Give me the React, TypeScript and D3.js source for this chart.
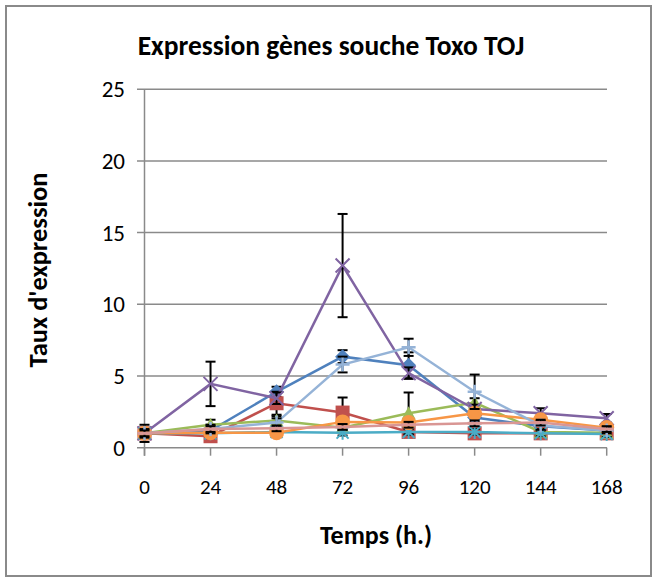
import React from 'react';
import * as d3 from 'd3';

// time points (h.)
const times = [0, 24, 48, 72, 96, 120, 144, 168];
const yTicks = [0, 5, 10, 15, 20, 25];

// expression rate per gene series
const serieBlue = [1, 1.2, 3.9, 6.35, 5.75, 2.1, 1.5, 1.2];
const serieRed = [1, 0.8, 3.1, 2.45, 1.1, 1.0, 1.0, 1.0];
const serieGreen = [1, 1.6, 1.9, 1.4, 2.4, 3.15, 1.1, 1.05];
const seriePurple = [1, 4.45, 3.45, 12.7, 5.2, 2.7, 2.4, 2.05];
const serieAqua = [1, 1.0, 1.1, 1.05, 1.1, 1.1, 1.0, 0.95];
const serieOrange = [1, 1.05, 1.05, 1.8, 1.75, 2.4, 1.95, 1.4];
const serieLightBlue = [1, 1.3, 1.75, 5.8, 7.0, 3.9, 1.55, 1.2];
const seriePink = [1, 1.3, 1.35, 1.45, 1.6, 1.7, 1.75, 1.3];

// error bars (+/-)
const errBlue = [0.6, 0.4, 0.35, 0.45, 0.9, 0.3, 0.2, 0.2];
const errRed = [0.3, 0.3, 0.8, 1.05, 0.2, 0.2, 0.2, 0.2];
const errGreen = [0.3, 0.35, 0.3, 0.3, 1.45, 0.3, 0.2, 0.2];
const errPurple = [0.3, 1.55, 0.4, 3.6, 0.4, 0.3, 0.35, 0.3];
const errAqua = [0.2, 0.2, 0.2, 0.2, 0.2, 0.2, 0.2, 0.2];
const errOrange = [0.2, 0.2, 0.2, 0.2, 0.2, 0.3, 0.3, 0.2];
const errLightBlue = [0.3, 0.3, 0.3, 0.55, 0.6, 1.2, 0.3, 0.2];
const errPink = [0.2, 0.2, 0.2, 0.2, 0.2, 0.2, 0.2, 0.2];

const series = [
  { values: serieBlue, err: errBlue, color: '#4F81BD', marker: 'diamond' },
  { values: serieRed, err: errRed, color: '#C0504D', marker: 'square' },
  { values: serieGreen, err: errGreen, color: '#9BBB59', marker: 'triangle' },
  { values: seriePurple, err: errPurple, color: '#8064A2', marker: 'x' },
  { values: serieAqua, err: errAqua, color: '#4BACC6', marker: 'star' },
  { values: serieOrange, err: errOrange, color: '#F79646', marker: 'circle' },
  { values: serieLightBlue, err: errLightBlue, color: '#95B3D7', marker: 'plus' },
  { values: seriePink, err: errPink, color: '#D99694', marker: 'dash' },
];

const W = 656;
const H = 581;
const FONT = 'Carlito, Calibri, Lato, sans-serif';

const x = d3.scaleLinear().domain([0, 168]).range([144.5, 606.7]);
const y = d3.scaleLinear().domain([0, 25]).range([447.7, 89.2]);

function Marker({ type, cx, cy, color }: { type: string; cx: number; cy: number; color: string }) {
  if (type === 'diamond')
    return <path d={`M${cx},${cy - 7.5}L${cx + 7.5},${cy}L${cx},${cy + 7.5}L${cx - 7.5},${cy}Z`} fill={color} />;
  if (type === 'square') return <rect x={cx - 7} y={cy - 7} width={14} height={14} fill={color} />;
  if (type === 'triangle')
    return <path d={`M${cx},${cy - 7}L${cx + 7},${cy + 6}L${cx - 7},${cy + 6}Z`} fill={color} />;
  if (type === 'circle') return <circle cx={cx} cy={cy} r={7.5} fill={color} />;
  if (type === 'x')
    return (
      <path d={`M${cx - 7},${cy - 7}L${cx + 7},${cy + 7}M${cx - 7},${cy + 7}L${cx + 7},${cy - 7}`}
        stroke={color} strokeWidth={2} />
    );
  if (type === 'star')
    return (
      <path
        d={`M${cx - 6},${cy - 6}L${cx + 6},${cy + 6}M${cx - 6},${cy + 6}L${cx + 6},${cy - 6}M${cx},${cy - 7}L${cx},${cy + 7}`}
        stroke={color} strokeWidth={2} />
    );
  if (type === 'plus')
    return (
      <path d={`M${cx - 7},${cy}L${cx + 7},${cy}M${cx},${cy - 7}L${cx},${cy + 7}`} stroke={color} strokeWidth={2.5} />
    );
  return <path d={`M${cx - 7},${cy}L${cx + 7},${cy}`} stroke={color} strokeWidth={3} />;
}

export default function App() {
  const line = d3
    .line<number>()
    .x((_, i) => x(times[i]))
    .y((d) => y(d));

  return (
    <svg width={W} height={H} style={{ position: 'absolute', left: 0, top: 0 }} fontFamily={FONT}>
      <rect x={0} y={0} width={W} height={H} fill="#fff" />
      <rect x={6} y={6} width={645} height={570} fill="none" stroke="#8a8a8a" strokeWidth={2} />

      <text x={331} y={45} dy="0.35em" textAnchor="middle" fontSize={27.5} fontWeight="bold" fill="#000">
        Expression gènes souche Toxo TOJ
      </text>

      {/* gridlines */}
      {yTicks.map((t) => (
        <g key={t}>
          <line x1={137} x2={607} y1={y(t)} y2={y(t)} stroke="#8a8a8a" strokeWidth={1.5} />
          <text x={125} y={y(t)} dy="0.35em" textAnchor="end" fontSize={23} fill="#000">
            {t}
          </text>
        </g>
      ))}
      {/* y axis */}
      <line x1={x(0)} x2={x(0)} y1={y(25)} y2={y(0) + 8} stroke="#8a8a8a" strokeWidth={1.5} />
      {/* x ticks */}
      {times.map((t) => (
        <g key={t}>
          <line x1={x(t)} x2={x(t)} y1={y(0)} y2={y(0) + 8} stroke="#8a8a8a" strokeWidth={1.5} />
          <text x={x(t)} y={487} dy="0.35em" textAnchor="middle" fontSize={21} fill="#000">
            {t}
          </text>
        </g>
      ))}

      {series.map((s, si) => (
        <g key={si}>
          <path d={line(s.values) || ''} fill="none" stroke={s.color} strokeWidth={2.5} />
          {s.values.map((v, i) => {
            const cx = x(times[i]);
            const top = y(v + s.err[i]);
            const bot = y(v - s.err[i]);
            return (
              <g key={i} stroke="#000" strokeWidth={2}>
                <line x1={cx} x2={cx} y1={top} y2={bot} />
                <line x1={cx - 5} x2={cx + 5} y1={top} y2={top} />
                <line x1={cx - 5} x2={cx + 5} y1={bot} y2={bot} />
              </g>
            );
          })}
          {s.values.map((v, i) => (
            <Marker key={i} type={s.marker} cx={x(times[i])} cy={y(v)} color={s.color} />
          ))}
        </g>
      ))}

      <text
        transform={`translate(38,${270}) rotate(-90)`}
        textAnchor="middle"
        dy="0.35em"
        fontSize={26.5}
        fontWeight="bold"
        fill="#000"
      >
        Taux d'expression
      </text>
      <text x={376} y={535} dy="0.35em" textAnchor="middle" fontSize={26} fontWeight="bold" fill="#000">
        Temps (h.)
      </text>
    </svg>
  );
}
